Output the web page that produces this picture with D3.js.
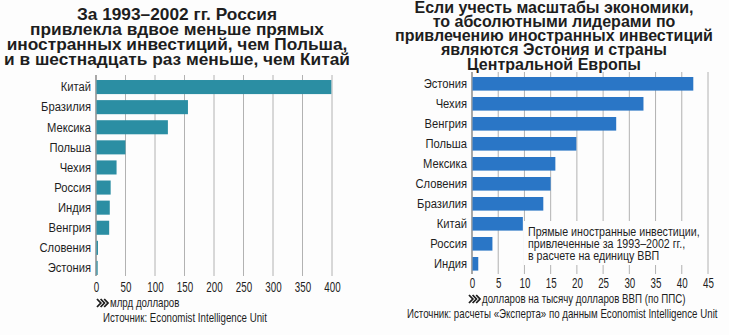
<!DOCTYPE html>
<html><head><meta charset="utf-8">
<script src="https://cdn.jsdelivr.net/npm/d3@7"></script>
<style>
html,body{margin:0;padding:0;background:#fdfdfd;}
svg{display:block;}
.narrow{font-family:"Liberation Sans",Arial,sans-serif;}
.title{font-family:"Liberation Sans",Arial,sans-serif;font-weight:bold;fill:#1e1e1e;}
</style></head>
<body>
<svg id="c" width="729" height="335"></svg>
<script>
// Left chart: FDI 1993–2002, bn USD
const leftTitle = ["За 1993–2002 гг. Россия","привлекла вдвое меньше прямых","иностранных инвестиций, чем Польша,","и в шестнадцать раз меньше, чем Китай"];
const leftCategories = ["Китай","Бразилия","Мексика","Польша","Чехия","Россия","Индия","Венгрия","Словения","Эстония"];
const leftValues = [398,155,121,49,34,24,22.5,21.5,2.5,2];
const leftTicks = [0,50,100,150,200,250,300,350,400];
const leftUnit = "млрд долларов";
const leftSource = "Источник: Economist Intelligence Unit";

// Right chart: FDI per 1000 USD GDP (PPP)
const rightTitle = ["Если учесть масштабы экономики,","то абсолютными лидерами по","привлечению иностранных инвестиций","являются Эстония и страны","Центральной Европы"];
const rightCategories = ["Эстония","Чехия","Венгрия","Польша","Мексика","Словения","Бразилия","Китай","Россия","Индия"];
const rightValues = [42.1,32.6,27.4,19.8,15.8,14.9,13.5,9.6,3.8,1.1];
const rightTicks = [0,5,10,15,20,25,30,35,40,45];
const rightNote = ["Прямые иностранные инвестиции,","привлеченные за 1993–2002 гг.,","в расчете на единицу ВВП"];
const rightUnit = "долларов на тысячу долларов ВВП (по ППС)";
const rightSource = "Источник: расчеты «Эксперта» по данным Economist Intelligence Unit";

const svg = d3.select("#c");
const INK = "#1e1e1e";

function narrowText(g, x, y, size, k, str){
  return g.append("text").attr("class","narrow").attr("font-size",size).attr("fill",INK)
    .attr("transform",`translate(${x},${y}) scale(${k},1)`).text(str);
}

function chevrons(g, x, y){
  for(let i=0;i<3;i++){
    g.append("path")
     .attr("d", `M${x+i*3.6},${y-4} L${x+i*3.6+3.8},${y} L${x+i*3.6},${y+4}`)
     .attr("fill","none").attr("stroke",INK).attr("stroke-width",1.8);
  }
}

function drawChart(cfg){
  const g = svg.append("g");
  const x = d3.scaleLinear().domain([cfg.ticks[0], cfg.ticks[cfg.ticks.length-1]]).range(cfg.xr);
  const y = d3.scaleBand().domain(cfg.cats).range(cfg.yr).paddingInner(cfg.pi).paddingOuter(cfg.pi/2);

  // title
  const t = g.append("text").attr("class","title").attr("text-anchor","middle")
    .attr("font-size",cfg.titleSize);
  cfg.title.forEach((s,i)=>t.append("tspan").attr("x",cfg.titleX).attr("y",cfg.titleY+i*cfg.titleLH).text(s));

  // grid
  g.selectAll("line.grid").data(cfg.ticks).join("line").attr("class","grid")
    .attr("x1",d=>x(d)).attr("x2",d=>x(d))
    .attr("y1",cfg.gridTop).attr("y2",cfg.gridBottom)
    .attr("stroke",d=>d===0?"#6f6f6f":"#a9a9a9").attr("stroke-width",d=>d===0?1.2:0.9);

  // bars
  g.selectAll("rect.bar").data(cfg.vals).join("rect").attr("class","bar")
    .attr("x",x(0)+0.5).attr("y",(d,i)=>y(cfg.cats[i]))
    .attr("width",d=>x(d)-x(0)).attr("height",y.bandwidth())
    .attr("fill",cfg.color);

  // note box
  if(cfg.note){
    g.append("rect").attr("x",cfg.note.x).attr("y",cfg.note.y).attr("width",cfg.note.w).attr("height",cfg.note.h).attr("fill","#fdfdfd");
    const ng = g.append("g").attr("transform",`translate(${cfg.note.tx},${cfg.note.ty}) scale(0.79,1)`);
    const nt = ng.append("text").attr("class","narrow").attr("font-size",13.5).attr("fill",INK);
    cfg.note.lines.forEach((s,i)=>nt.append("tspan").attr("x",0).attr("y",i*12).text(s));
  }

  // category axis
  const ya = g.append("g").attr("transform",`translate(${x(0)},0)`)
    .call(d3.axisLeft(y).tickSize(0).tickPadding(0));
  ya.select(".domain").remove();
  ya.selectAll("text").attr("class","narrow").attr("font-size",13.5).attr("fill",INK).attr("font-family",null)
    .attr("x",0).attr("transform",`translate(${-cfg.catPad},0) scale(0.83,1)`);

  // value axis
  const xa = g.append("g").attr("transform",`translate(0,${cfg.axisY})`)
    .call(d3.axisBottom(x).tickValues(cfg.ticks).tickSize(0).tickPadding(0).tickFormat(d3.format("d")));
  xa.select(".domain").remove();
  xa.selectAll("text").attr("class","narrow").attr("font-size",14).attr("fill",INK).attr("font-family",null)
    .attr("dy","0.75em").attr("transform","scale(0.7,1)");

  chevrons(g, cfg.unitX, cfg.unitY-4);
  narrowText(g, cfg.unitX+13, cfg.unitY, 12, 0.81, cfg.unit);
  narrowText(g, cfg.srcX, cfg.srcY, 12, 0.81, cfg.src);
}

drawChart({
  title:leftTitle, titleX:177, titleY:19.5, titleLH:15.1, titleSize:17.3,
  cats:leftCategories, vals:leftValues, ticks:leftTicks,
  xr:[96,332], yr:[77,278], pi:0.3, color:"#2b8ea3",
  gridTop:75, gridBottom:276, catPad:5, axisY:281,
  unit:leftUnit, unitX:97, unitY:307, src:leftSource, srcX:103, srcY:322
});

drawChart({
  title:rightTitle, titleX:554, titleY:12.5, titleLH:14.3, titleSize:16,
  cats:rightCategories, vals:rightValues, ticks:rightTicks,
  xr:[472,708], yr:[73.8,273.8], pi:0.32, color:"#2a76c6",
  gridTop:72, gridBottom:274, catPad:5, axisY:277,
  note:{x:524,y:221,w:180,h:44,tx:528,ty:236,lines:rightNote},
  unit:rightUnit, unitX:469, unitY:303, src:rightSource, srcX:407, srcY:318
});
</script>
</body></html>
